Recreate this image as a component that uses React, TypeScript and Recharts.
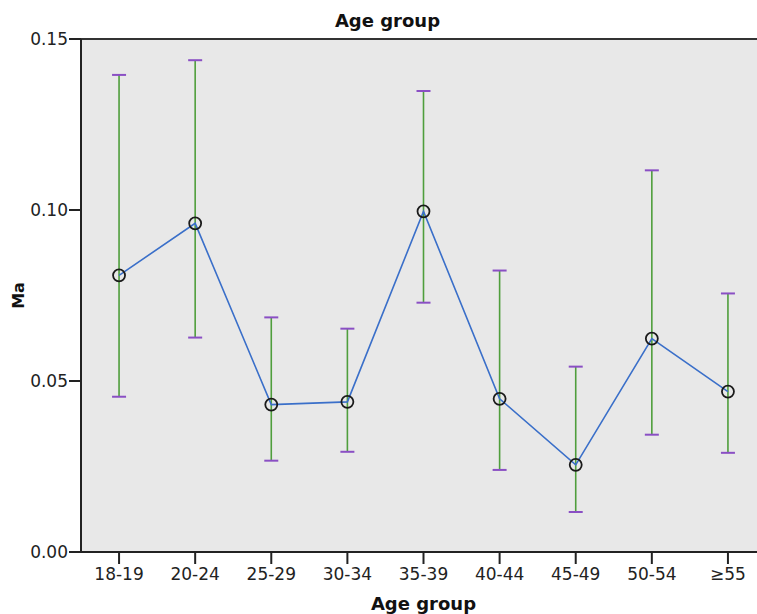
import { ComposedChart, Line, XAxis, YAxis, CartesianGrid, ErrorBar, ReferenceLine } from "recharts";

const ageGroups = ["18-19", "20-24", "25-29", "30-34", "35-39", "40-44", "45-49", "50-54", "≥55"];
const means = [0.0809, 0.0961, 0.0431, 0.0439, 0.0996, 0.0448, 0.0255, 0.0624, 0.0469];
const upper = [0.1395, 0.1438, 0.0686, 0.0653, 0.1348, 0.0823, 0.0542, 0.1116, 0.0756];
const lower = [0.0454, 0.0627, 0.0267, 0.0293, 0.0729, 0.024, 0.0117, 0.0343, 0.029];
const yTicks = [0, 0.05, 0.1, 0.15];

const data = ageGroups.map((g, i) => ({
  group: g,
  mean: means[i],
  hi: upper[i],
  lo: lower[i],
  err: [means[i] - lower[i], upper[i] - means[i]],
}));

const FONT = "'DejaVu Sans', sans-serif";

// purple whisker cap
const Cap = (props: any) => {
  const { cx, cy } = props;
  if (cx == null || cy == null) return null;
  return <line x1={cx - 7} x2={cx + 7} y1={cy} y2={cy} stroke="#8a4fc4" strokeWidth={2} />;
};

const Marker = (props: any) => {
  const { cx, cy } = props;
  if (cx == null || cy == null) return null;
  return <circle cx={cx} cy={cy} r={6} fill="none" stroke="#1a1a1a" strokeWidth={1.8} />;
};

export default function App() {
  return (
    <div style={{ position: "absolute", left: 0, top: 0, width: 757, height: 614, overflow: "hidden", background: "#fff" }}>
      <div
        style={{
          position: "absolute",
          left: 0,
          width: 775,
          top: 10,
          textAlign: "center",
          fontFamily: FONT,
          fontWeight: "bold",
          fontSize: 18,
          color: "#111",
        }}
      >
        Age group
      </div>
      <ComposedChart
        width={780}
        height={614}
        data={data}
        margin={{ top: 39, right: 14, left: 0, bottom: 0 }}
        style={{ fontFamily: FONT }}
      >
        <CartesianGrid fill="#e8e8e8" horizontal={false} vertical={false} />
        <XAxis
          dataKey="group"
          scale="band"
          tickLine={{ stroke: "#222", strokeWidth: 2 }}
          axisLine={{ stroke: "#222", strokeWidth: 2 }}
          tickSize={12}
          tickMargin={4}
          height={62}
          tick={{ fill: "#222", fontSize: 17 }}
          label={{ value: "Age group", position: "insideBottom", offset: 4, style: { fontWeight: "bold", fontSize: 18, fill: "#111" } }}
        />
        <YAxis
          domain={[0, 0.15]}
          ticks={yTicks}
          tickFormatter={(v: number) => v.toFixed(2)}
          width={81}
          tickSize={12}
          tickMargin={1}
          tickLine={{ stroke: "#222", strokeWidth: 2 }}
          axisLine={{ stroke: "#222", strokeWidth: 2 }}
          tick={{ fill: "#222", fontSize: 17 }}
          label={{ value: "Ma", angle: -90, position: "insideLeft", offset: 18, style: { fontWeight: "bold", fontSize: 16, fill: "#111", textAnchor: "middle" } }}
        />
        <ReferenceLine y={0.15} stroke="#333" strokeWidth={2} />
        <Line dataKey="mean" stroke="none" dot={false} isAnimationActive={false} legendType="none">
          <ErrorBar dataKey="err" width={0} stroke="#4f9e3c" strokeWidth={1.6} direction="y" />
        </Line>
        <Line dataKey="hi" stroke="none" dot={<Cap />} activeDot={false} isAnimationActive={false} legendType="none" />
        <Line dataKey="lo" stroke="none" dot={<Cap />} activeDot={false} isAnimationActive={false} legendType="none" />
        <Line
          dataKey="mean"
          stroke="#3a6fc9"
          strokeWidth={1.6}
          dot={<Marker />}
          activeDot={false}
          isAnimationActive={false}
          legendType="none"
        />
      </ComposedChart>
    </div>
  );
}
